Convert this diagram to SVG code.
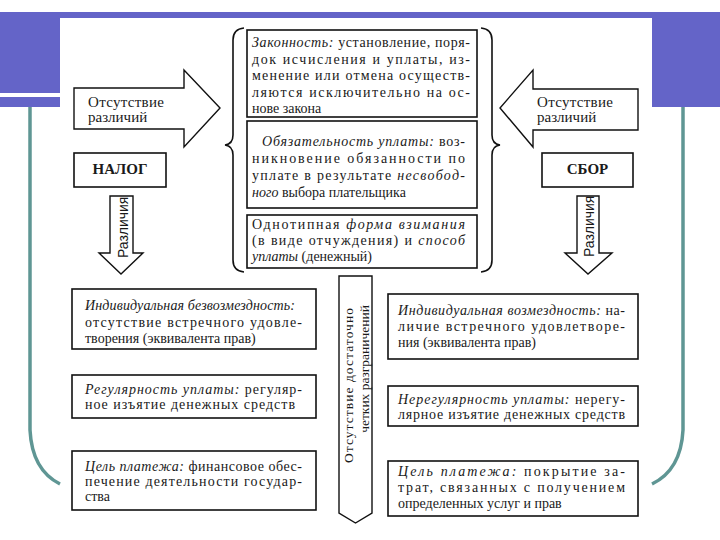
<svg xmlns="http://www.w3.org/2000/svg" width="720" height="540" viewBox="0 0 720 540">
<style>
.bg{fill:#6464c8}
.rail{fill:none;stroke:#5f9694;stroke-width:3.5}
.box{fill:#fff;stroke:#111;stroke-width:1.6}
.arr{fill:#fff;stroke:#111;stroke-width:1.4;stroke-linejoin:miter}
.brace{fill:none;stroke:#111;stroke-width:1.6}
.t{font-family:'Liberation Serif','Times New Roman',serif;font-size:14px;fill:#1a1a1a}
.s{font-family:'Liberation Sans',Arial,sans-serif;font-size:14px;fill:#1a1a1a}
.big{font-size:15px}
.b{font-weight:bold;font-size:15px}
.c{font-size:13.5px}
.i{font-style:italic}
</style>
<rect x="0" y="0" width="720" height="540" fill="#fff"/>
<g id="slide">
<rect class="bg" x="0" y="12" width="720" height="6"/>
<rect class="bg" x="0" y="12" width="60" height="81"/>
<rect class="bg" x="0" y="97" width="60" height="10"/>
<rect class="bg" x="652" y="12" width="68" height="95"/>
<path class="rail" d="M30,107 V430 Q32,470 60,484"/>
<path class="rail" d="M683,107 V430 Q681,470 652,484"/>
</g>
<g id="connectors">
<polygon id="arrow-left" class="arr" points="74,88 184,88 184,70 220,108 184,147 184,129 74,129"/>
<polygon id="arrow-right" class="arr" points="638,89 533,89 533,70 500,108 533,147 533,130 638,130"/>
<polygon id="arrow-down-left" class="arr" points="110,196 133,196 133,253 143,253 121,274 99,253 110,253"/>
<polygon id="arrow-down-right" class="arr" points="577,196 599,196 599,253 612,253 588,274 565,253 577,253"/>
<polygon id="arrow-center" class="arr" points="339,276 372,276 372,513 355.5,523 339,513"/>
<path class="brace" d="M244,28 Q233,29 233,40 V135 Q233,144 225,145 Q233,146 233,155 V260 Q233,271 244,272"/>
<path class="brace" d="M481,28 Q492,29 492,40 V135 Q492,144 500,145 Q492,146 492,155 V260 Q492,271 481,272"/>
</g>
<g id="label-left">
<text class="t big" x="88" y="107" textLength="76" lengthAdjust="spacing">Отсутствие</text>
<text class="t big" x="88" y="122">различий</text>
</g>
<g id="label-right">
<text class="t big" x="537" y="107" textLength="76" lengthAdjust="spacing">Отсутствие</text>
<text class="t big" x="537" y="122">различий</text>
</g>
<g id="label-center">
<text class="t c" transform="translate(353,463) rotate(-90)" textLength="155" lengthAdjust="spacing">Отсутствие достаточно</text>
<text class="t c" text-anchor="end" transform="translate(369,305) rotate(-90)">четких разграничений</text>
</g>
<g id="label-diff-left">
<text class="s" transform="translate(128,258) rotate(-90)">Различия</text>
</g>
<g id="label-diff-right">
<text class="s" transform="translate(594,257) rotate(-90)">Различия</text>
</g>
<g id="nalog">
<rect class="box" x="74" y="153" width="92" height="34"/>
<text class="t b" x="120" y="174" text-anchor="middle">НАЛОГ</text>
</g>
<g id="sbor">
<rect class="box" x="542" y="153" width="91" height="34"/>
<text class="t b" x="587.5" y="174" text-anchor="middle">СБОР</text>
</g>
<g id="legality">
<rect class="box" x="247" y="30" width="230" height="87"/>
<text class="t" x="252" y="47" textLength="218" lengthAdjust="spacing"><tspan class="i">Законность:</tspan> установление, поря-</text>
<text class="t" x="252" y="63.5" textLength="218" lengthAdjust="spacing">док исчисления и уплаты, из-</text>
<text class="t" x="252" y="80" textLength="218" lengthAdjust="spacing">менение или отмена осуществ-</text>
<text class="t" x="252" y="96.5" textLength="218" lengthAdjust="spacing">ляются исключительно на ос-</text>
<text class="t" x="252" y="113">нове закона</text>
</g>
<g id="obligation">
<rect class="box" x="247" y="121" width="230" height="87"/>
<text class="t" x="262" y="146" textLength="203" lengthAdjust="spacing"><tspan class="i">Обязательность уплаты:</tspan> воз-</text>
<text class="t" x="252" y="163" textLength="213" lengthAdjust="spacing">никновение обязанности по</text>
<text class="t" x="252" y="180" textLength="213" lengthAdjust="spacing">уплате в результате <tspan class="i">несвобод-</tspan></text>
<text class="t" x="252" y="197"><tspan class="i">ного</tspan> выбора плательщика</text>
</g>
<g id="form">
<rect class="box" x="247" y="215" width="230" height="53"/>
<text class="t" x="252" y="229" textLength="213" lengthAdjust="spacing">Однотипная <tspan class="i">форма взимания</tspan></text>
<text class="t" x="252" y="245" textLength="213" lengthAdjust="spacing">(в виде отчуждения) и <tspan class="i">способ</tspan></text>
<text class="t" x="252" y="261"><tspan class="i">уплаты</tspan> (денежный)</text>
</g>
<g id="left-1">
<rect class="box" x="72" y="289" width="244" height="60"/>
<text class="t" x="85" y="310" textLength="210" lengthAdjust="spacing"><tspan class="i">Индивидуальная безвозмездность:</tspan></text>
<text class="t" x="85" y="327" textLength="217" lengthAdjust="spacing">отсутствие встречного удовле-</text>
<text class="t" x="85" y="343">творения (эквивалента прав)</text>
</g>
<g id="left-2">
<rect class="box" x="72" y="375" width="244" height="43"/>
<text class="t" x="85" y="394" textLength="217" lengthAdjust="spacing"><tspan class="i">Регулярность уплаты:</tspan> регуляр-</text>
<text class="t" x="85" y="409" textLength="210" lengthAdjust="spacing">ное изъятие денежных средств</text>
</g>
<g id="left-3">
<rect class="box" x="72" y="451" width="244" height="59"/>
<text class="t" x="85" y="471" textLength="217" lengthAdjust="spacing"><tspan class="i">Цель платежа:</tspan> финансовое обес-</text>
<text class="t" x="85" y="486" textLength="217" lengthAdjust="spacing">печение деятельности государ-</text>
<text class="t" x="85" y="501">ства</text>
</g>
<g id="right-1">
<rect class="box" x="388" y="294" width="250" height="65"/>
<text class="t" x="398" y="315" textLength="227" lengthAdjust="spacing"><tspan class="i">Индивидуальная возмездность:</tspan> на-</text>
<text class="t" x="398" y="331" textLength="227" lengthAdjust="spacing">личие встречного удовлетворе-</text>
<text class="t" x="398" y="347">ния (эквивалента прав)</text>
</g>
<g id="right-2">
<rect class="box" x="388" y="386" width="250" height="40"/>
<text class="t" x="398" y="404" textLength="227" lengthAdjust="spacing"><tspan class="i">Нерегулярность уплаты:</tspan> нерегу-</text>
<text class="t" x="398" y="419" textLength="227" lengthAdjust="spacing">лярное изъятие денежных средств</text>
</g>
<g id="right-3">
<rect class="box" x="388" y="461" width="250" height="55"/>
<text class="t" x="398" y="476" textLength="227" lengthAdjust="spacing"><tspan class="i">Цель платежа:</tspan> покрытие за-</text>
<text class="t" x="398" y="492" textLength="227" lengthAdjust="spacing">трат, связанных с получением</text>
<text class="t" x="398" y="508">определенных услуг и прав</text>
</g>
</svg>
